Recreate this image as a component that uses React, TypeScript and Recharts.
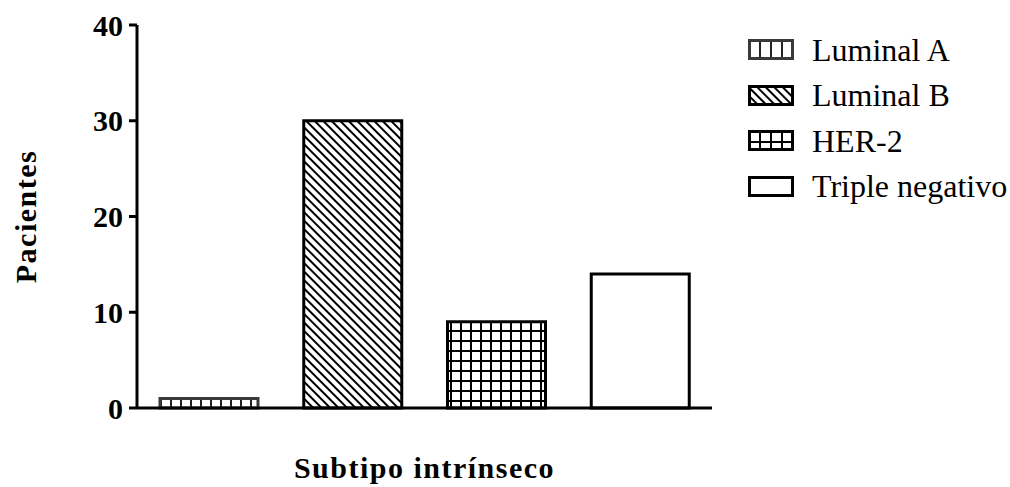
import React from "react";
import { BarChart, Bar, XAxis, YAxis, Cell, Legend } from "recharts";

const categories = ["Luminal A", "Luminal B", "HER-2", "Triple negativo"];
const pacientes = [1, 30, 9, 14];
const yTicks = [0, 10, 20, 30, 40];

const serif = "'Liberation Serif', 'Times New Roman', serif";

// pattern key per category, and border colour
const patternKeys = ["vert", "diag", "grid", "none"];
const borderColors = ["#3a3a3a", "#000", "#000", "#000"];

const data = categories.map((name, i) => ({ name, value: pacientes[i] }));

const LEGEND_W = 262;

function Patterns({ prefix, step }: { prefix: string; step: number }) {
  return (
    <defs>
      <pattern id={`${prefix}-vert`} patternUnits="userSpaceOnUse" width={step} height={step}>
        <rect width={step} height={step} fill="#fff" />
        <line x1={1} y1={0} x2={1} y2={step} stroke="#222" strokeWidth={2} />
      </pattern>
      <pattern
        id={`${prefix}-diag`}
        patternUnits="userSpaceOnUse"
        width={step}
        height={6}
        patternTransform="rotate(45)"
      >
        <rect width={step} height={6} fill="#fff" />
        <line x1={0} y1={1} x2={step} y2={1} stroke="#000" strokeWidth={2} />
      </pattern>
      <pattern id={`${prefix}-grid`} patternUnits="userSpaceOnUse" width={step} height={step}>
        <rect width={step} height={step} fill="#fff" />
        <line x1={1} y1={0} x2={1} y2={step} stroke="#000" strokeWidth={2} />
        <line x1={0} y1={1} x2={step} y2={1} stroke="#000" strokeWidth={2} />
      </pattern>
    </defs>
  );
}

const fillFor = (prefix: string, i: number) =>
  patternKeys[i] === "none" ? "#fff" : `url(#${prefix}-${patternKeys[i]})`;

const renderLegend = () => (
  <div style={{ fontFamily: serif, fontSize: 32, color: "#000", lineHeight: 1 }}>
    {categories.map((c, i) => (
      <div key={c} style={{ display: "flex", alignItems: "center", height: 45.5 }}>
        <svg width={46} height={21} style={{ marginRight: 18, flex: "none" }}>
          <Patterns prefix={`lg${i}`} step={11} />
          <rect
            x={1.5}
            y={1.5}
            width={43}
            height={18}
            fill={fillFor(`lg${i}`, i)}
            stroke={borderColors[i]}
            strokeWidth={3}
          />
        </svg>
        <span style={{ whiteSpace: "nowrap" }}>{c}</span>
      </div>
    ))}
  </div>
);

export default function App() {
  return (
    <div style={{ position: "absolute", left: 0, top: 0, background: "#fff" }}>
      <BarChart
        width={1010}
        height={487}
        data={data}
        // legend width is added to the right offset by recharts
        margin={{ top: 25, right: 298 - LEGEND_W, left: 0, bottom: 0 }}
      >
        <Patterns prefix="bar" step={10} />
        <XAxis
          dataKey="name"
          tick={false}
          tickLine={false}
          height={79}
          axisLine={{ stroke: "#000", strokeWidth: 3 }}
          label={{
            content: ({ viewBox }: any) => (
              <text
                x={viewBox.x + viewBox.width / 2}
                y={478}
                textAnchor="middle"
                fontFamily={serif}
                fontWeight="bold"
                fontSize={30}
                letterSpacing={1.5}
                fill="#000"
              >
                Subtipo intrínseco
              </text>
            ),
          }}
        />
        <YAxis
          width={137}
          domain={[0, 40]}
          ticks={yTicks}
          interval={0}
          tickSize={8}
          tickMargin={6}
          axisLine={{ stroke: "#000", strokeWidth: 3 }}
          tickLine={{ stroke: "#000", strokeWidth: 3 }}
          tick={{ fill: "#000", fontSize: 30, fontWeight: "bold", fontFamily: serif }}
          label={{
            content: ({ viewBox }: any) => (
              <text
                transform={`translate(36, ${viewBox.y + viewBox.height / 2}) rotate(-90)`}
                textAnchor="middle"
                fontFamily={serif}
                fontWeight="bold"
                fontSize={30}
                letterSpacing={1.5}
                fill="#000"
              >
                Pacientes
              </text>
            ),
          }}
        />
        <Legend
          layout="horizontal"
          verticalAlign="middle"
          align="right"
          content={renderLegend}
          wrapperStyle={{ left: 748, top: 27, width: LEGEND_W }}
        />
        <Bar dataKey="value" barSize={98} isAnimationActive={false}>
          {data.map((d, i) => (
            <Cell key={d.name} fill={fillFor("bar", i)} stroke={borderColors[i]} strokeWidth={3} />
          ))}
        </Bar>
      </BarChart>
    </div>
  );
}
